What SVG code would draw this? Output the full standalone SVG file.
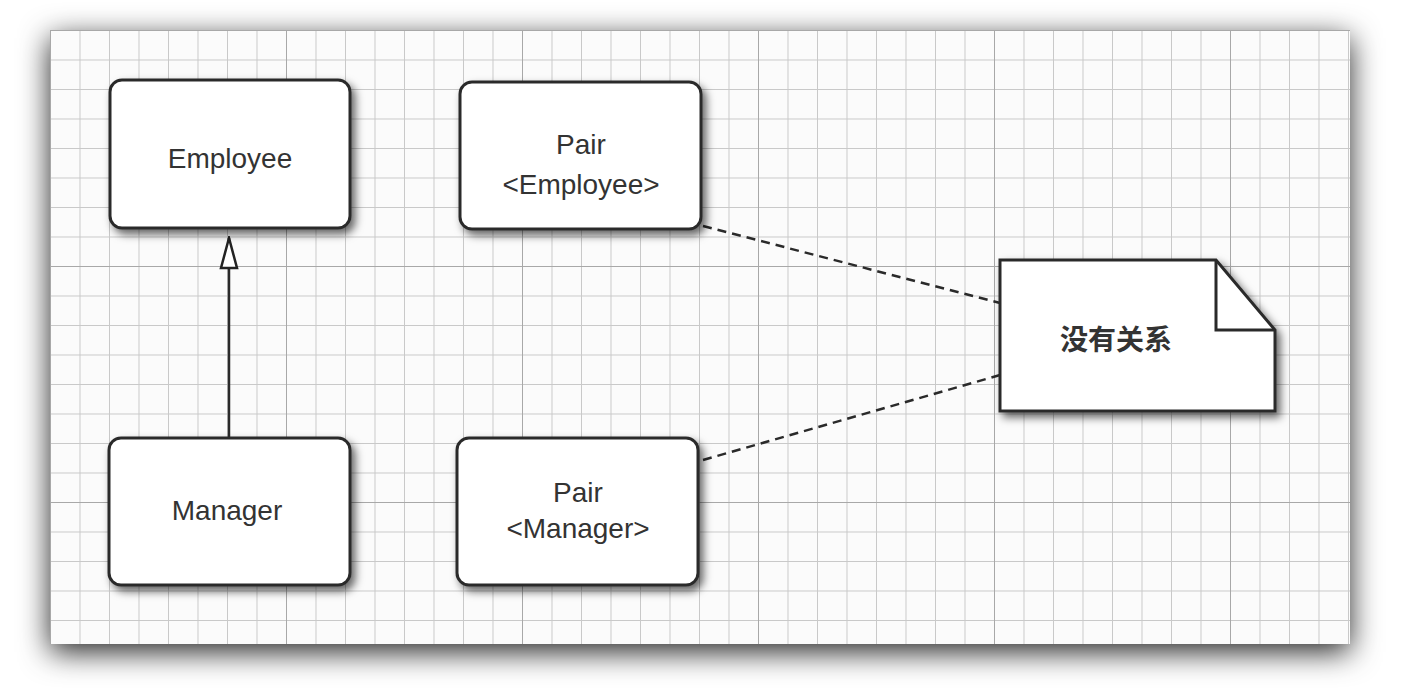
<svg xmlns="http://www.w3.org/2000/svg" width="1405" height="691" viewBox="0 0 1405 691">
<defs>
<filter id="panelShadow" x="-10%" y="-15%" width="120%" height="135%">
<feDropShadow dx="0" dy="8" stdDeviation="15" flood-color="#000" flood-opacity="0.85"/>
</filter>
<filter id="boxShadow" x="-10%" y="-10%" width="130%" height="130%">
<feDropShadow dx="4" dy="5" stdDeviation="4" flood-color="#000" flood-opacity="0.6"/>
</filter>
<pattern id="minor" patternUnits="userSpaceOnUse" x="50" y="30" width="29.5" height="29.5">
<path d="M0 0H29.5M0 0V29.5" fill="none" stroke="#c9c9c9" stroke-width="2"/>
</pattern>
<pattern id="major" patternUnits="userSpaceOnUse" x="50" y="30" width="236" height="236">
<path d="M0 0H236M0 0V236" fill="none" stroke="#a8a8a8" stroke-width="2"/>
</pattern>
<marker id="hollow" viewBox="0 0 34 20" refX="32" refY="10" markerWidth="34" markerHeight="20" markerUnits="userSpaceOnUse" orient="auto">
<path d="M32 10 L2 2 L2 18 Z" fill="#fff" stroke="#222" stroke-width="2.5" stroke-linejoin="miter"/>
</marker>
<style>
.node rect, .node path.body { fill: #fff; stroke: #2a2a2a; stroke-width: 3; }
.lbl { font-family: "Liberation Sans", Arial, sans-serif; font-size: 28px; fill: #333; text-anchor: middle; }
.cjk { font-family: "Liberation Sans", "Noto Sans CJK SC", sans-serif; font-size: 28px; font-weight: bold; fill: #333; text-anchor: middle; }
.dash { fill: none; stroke: #2a2a2a; stroke-width: 2.5; stroke-dasharray: 9 6; }
.solid { fill: none; stroke: #2a2a2a; stroke-width: 2.5; }
</style>
</defs>
<rect width="1405" height="691" fill="#fff"/>
<g id="panel">
<rect x="50" y="30" width="1300" height="614" fill="#fbfbfb" filter="url(#panelShadow)"/>
<rect x="50" y="30" width="1300" height="614" fill="url(#minor)"/>
<rect x="50" y="30" width="1300" height="614" fill="url(#major)"/>
</g>
<g id="connectors">
<line class="solid" x1="229" y1="437" x2="229" y2="238" marker-end="url(#hollow)"/>
<line class="dash" x1="703" y1="226" x2="1000" y2="303"/>
<line class="dash" x1="703" y1="460" x2="1000" y2="375"/>
</g>
<g id="employee" class="node">
<rect x="110" y="80" width="240" height="148" rx="12" filter="url(#boxShadow)"/>
<text class="lbl" x="230" y="168">Employee</text>
</g>
<g id="manager" class="node">
<rect x="109" y="438" width="241" height="147" rx="12" filter="url(#boxShadow)"/>
<text class="lbl" x="227" y="520">Manager</text>
</g>
<g id="pair-employee" class="node">
<rect x="460" y="82" width="241" height="147" rx="12" filter="url(#boxShadow)"/>
<text class="lbl" x="581" y="154">Pair</text>
<text class="lbl" x="581" y="194">&lt;Employee&gt;</text>
</g>
<g id="pair-manager" class="node">
<rect x="457" y="438" width="241" height="147" rx="12" filter="url(#boxShadow)"/>
<text class="lbl" x="578" y="502">Pair</text>
<text class="lbl" x="578" y="538">&lt;Manager&gt;</text>
</g>
<g id="note" class="node">
<path class="body" d="M1000 260 H1216 L1275 330 V411 H1000 Z" filter="url(#boxShadow)"/>
<path d="M1216 260 V330 H1275" fill="none" stroke="#2a2a2a" stroke-width="3"/>
<text class="cjk" x="1116" y="350">没有关系</text>
</g>
</svg>
